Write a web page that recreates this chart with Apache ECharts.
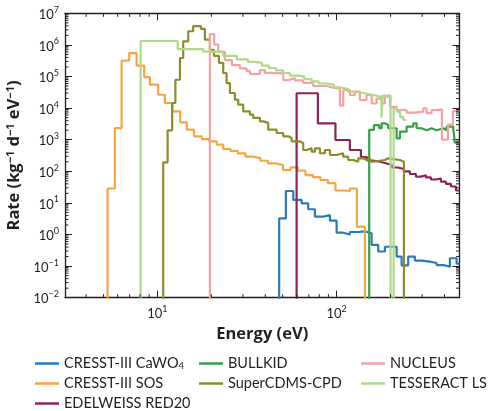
<!DOCTYPE html>
<html><head><meta charset="utf-8">
<script src="https://cdn.jsdelivr.net/npm/echarts@6/dist/echarts.min.js"></script>
<style>html,body{margin:0;padding:0;background:#fff}#c{width:490px;height:411px}</style>
</head><body><div id="c"></div>
<script>
// ---- data (energy bin edges in eV, rates in kg^-1 d^-1 eV^-1) ----
const cawo4Edges = [47.8, 52.1, 57.3, 63.8, 69.4, 75.7, 84.2, 91.8, 100, 108.8, 118.6, 132.0, 143.9, 156.8, 170.7, 186.0, 202.7, 216.3, 230.5, 250.9, 273.5, 298.2, 331.6, 361.4, 393.5, 428.8, 467.3, 484.4];
const cawo4Rates = [3.26, 23.8, 12.4, 9.7, 6.3, 3.66, 4.1, 2.74, 1.14, 1.0, 1.2, 1.25, 1.1, 0.47, 0.29, 0.41, 0.41, 0.2, 0.105, 0.2, 0.15, 0.138, 0.125, 0.108, 0.096, 0.177, 0.12];

const sosEdges = [5.27, 5.79, 6.31, 6.96, 7.65, 8.44, 9.08, 10.1, 11.0, 12.1, 13.4, 14.6, 16.0, 17.7, 19.4, 21.4, 23.3, 25.6, 28.1, 31.0, 34.1, 37.6, 41.4, 45.5, 50.2, 55.2, 60.8, 67.0, 73.7, 81.2, 89.4, 98.5, 108.4, 118.7, 129.8, 143.9];
const sosRates = [28.6, 2340, 3.2e5, 5.5e5, 2.2e5, 9.6e4, 5.5e4, 2.65e4, 1.45e4, 7.9e3, 3.55e3, 2.07e3, 1.28e3, 1.05e3, 890, 695, 508, 439, 371, 290, 258, 216, 179, 158, 110, 134, 105, 76, 65, 53, 42, 24.7, 23.8, 28.6, 1.77];

const edelEdges = [59.8, 78.6, 98.5, 118.6, 136.6, 147.6, 159.4, 174.4, 188.4, 203.5, 219.8, 237.5, 256.5, 277.0, 295.5, 315.0, 335.9, 358.2, 382.0, 407.3, 434.4, 463.2, 484.4];
const edelRates = [2.95e4, 3.3e3, 980, 472, 284, 220, 201, 179, 158, 132, 118, 99, 82, 68, 75, 64, 55, 59, 47, 40, 33, 24.7];

const bullkidEdges = [152.0, 161.5, 172.9, 178.3, 186.0, 194.1, 216.3, 225.6, 245.8, 267.6, 279.5, 298.2, 317.9, 338.9, 361.4, 393.5, 411.1, 447.4, 457.2, 484.4];
const bullkidRates = [2.05e3, 2.9e3, 2.3e3, 3.3e3, 2.9e3, 2.3e3, 1.1e3, 1.8e3, 2.6e3, 3.3e3, 2.3e3, 2.0e3, 2.3e3, 2.0e3, 2.3e3, 2.0e3, 2.6e3, 2.2e3, 800];

const cdmsEdges = [10.77, 11.40, 12.09, 12.60, 13.36, 13.93, 14.86, 15.84, 17.49, 18.41, 19.63, 20.67, 22.04, 23.29, 24.33, 25.39, 27.07, 28.24, 30.12, 32.83, 34.24, 37.33, 38.95, 41.53, 46.27, 50.35, 53.70, 56.10, 62.41, 65.10, 68.01, 72.53, 75.68, 80.70, 86.06, 91.77, 99.98, 108.8, 116.1, 123.8, 132.0, 140.7, 147.0, 153.4, 160.0, 186.0, 194.1, 225.6, 237.5];
const cdmsRates = [193, 1.98e3, 1.45e4, 7.9e4, 3.85e5, 1.3e6, 2.7e6, 3.9e6, 3.2e6, 1.46e6, 7.0e5, 4.5e5, 2.7e5, 1.29e5, 6.2e4, 3.0e4, 1.85e4, 1.28e4, 7.9e3, 6.2e3, 4.9e3, 3.8e3, 3.4e3, 2.07e3, 1.63e3, 1.28e3, 1.13e3, 890, 770, 472, 534, 417, 534, 372, 472, 328, 372, 290, 228, 201, 258, 228, 258, 201, 228, 258, 228, 201];

const nucleusEdges = [19.63, 20.75, 21.84, 23.81, 26.05, 28.87, 31.46, 32.83, 37.33, 39.81, 42.45, 50.4, 53.7, 58.53, 65.1, 74.0, 87.9, 95.7, 104.3, 108.9, 118.6, 126.5, 134.9, 147.0, 156.8, 167.2, 178.3, 186.0, 198.4, 216.3, 245.8, 273.5, 304.3, 317.9, 338.9, 361.4, 386.9, 417.9, 445.7, 484.4];
const nucleusRates = [2.2e6, 1.03e6, 6.0e5, 3.3e5, 2.3e5, 1.8e5, 1.5e5, 1.2e5, 1.6e5, 1.3e5, 1.26e5, 7.7e4, 8.9e4, 7.5e4, 6.3e4, 5.0e4, 4.4e4, 4.2e4, 1.2e4, 3.7e4, 2.6e4, 3.3e4, 1.8e4, 2.6e4, 1.4e4, 2.0e4, 1.4e4, 2.3e4, 1.1e4, 8.7e3, 7.2e3, 7.7e3, 9.8e3, 6.9e3, 8.7e3, 9.0e3, 1.0e3, 3.0e3, 8.0e3];

const tessEdges = [8.06, 12.96, 18.0, 23.3, 27.7, 32.0, 35.0, 38.3, 41.9, 45.8, 50.2, 54.9, 60.0, 66.0, 72.5, 79.5, 87.5, 96.5, 106, 116, 128, 141, 155, 171, 178, 181, 200, 208, 217, 226, 236, 245];
const tessRates = [1.33e6, 7.4e5, 6.1e5, 4.5e5, 3.5e5, 2.9e5, 2.7e5, 2.2e5, 1.86e5, 1.57e5, 1.29e5, 1.06e5, 1.01e5, 8.3e4, 7.0e4, 6.0e4, 5.5e4, 4.5e4, 4.0e4, 3.3e4, 3.0e4, 2.7e4, 2.4e4, 2.3e4, 5.0e3, 2.5e4, 1e-4, 9.9e3, 7.7e3, 5.3e3, 4.2e3];

const xMinorTickValues = [4, 5, 6, 7, 8, 9, 20, 30, 40, 50, 60, 70, 80, 90, 200, 300, 400];
const yMinorTickValues = [];
for (let e = -2; e < 7; e++) for (let m = 2; m < 10; m++) yMinorTickValues.push(m * Math.pow(10, e));

const seriesNames = ['CRESST-III CaWO4', 'CRESST-III SOS', 'EDELWEISS RED20', 'BULLKID', 'SuperCDMS-CPD', 'NUCLEUS', 'TESSERACT LS'];
const seriesColors = ['#2b7bba', '#f7a541', '#8b2458', '#34a048', '#8c8c2c', '#f5a3a3', '#b1d98c'];

// ---- build ----
const FLOOR = 1e-4;
function steps(edges, rates, rise, drop) {
  const pts = [];
  if (rise) pts.push([edges[0], FLOOR]);
  for (let i = 0; i < rates.length; i++) pts.push([edges[i], rates[i]]);
  pts.push([edges[edges.length - 1], rates[rates.length - 1]]);
  if (drop) pts.push([edges[edges.length - 1], FLOOR]);
  return pts;
}
const seriesData = [
  steps(cawo4Edges, cawo4Rates, true, false),
  steps(sosEdges, sosRates, true, true),
  steps(edelEdges, edelRates, true, false),
  steps(bullkidEdges, bullkidRates, true, false),
  steps(cdmsEdges, cdmsRates, true, true),
  steps(nucleusEdges, nucleusRates, true, false),
  steps(tessEdges, tessRates, true, false)
];

const FONT = 'Lato, "Liberation Sans", sans-serif';
const TFONT = '"Open Sans", Lato, sans-serif';
const INK = '#231f20';
function pow10(v) {
  const e = Math.round(Math.log10(v));
  return '{b|10}{s|' + (e < 0 ? '\u2212' + (-e) : e) + '}';
}
const labelRich = {
  b: { fontSize: 13, lineHeight: 16, color: INK, fontFamily: FONT, verticalAlign: 'bottom' },
  s: { fontSize: 9, lineHeight: 10, color: INK, fontFamily: FONT, verticalAlign: 'top' }
};
const tickStyle = { color: INK, width: 1 };
const lineStyleAxis = { color: INK, width: 1.3 };

const chart = echarts.init(document.getElementById('c'), null, { renderer: 'canvas' });
const legendCommon = {
  orient: 'vertical', icon: 'rect', itemWidth: 24, itemHeight: 2.5, itemGap: 5, padding: 0,
  selectedMode: false,
  textStyle: { fontSize: 14.5, lineHeight: 15, color: INK, fontFamily: FONT,
    rich: { n: { fontSize: 14.5, color: INK, fontFamily: FONT }, sub: { fontSize: 9.5, color: INK, fontFamily: FONT, verticalAlign: 'bottom', padding: [4, 0, 0, 0] } } },
  formatter: function (name) { return name === 'CRESST-III CaWO4' ? '{n|CRESST-III CaWO}{sub|4}' : name; }
};
const option = {
  animation: false,
  backgroundColor: '#ffffff',
  grid: { left: 65, right: 30.5, top: 13.3, bottom: 113.3, containLabel: false, outerBoundsMode: 'none' },
  legend: [
    Object.assign({}, legendCommon, { left: 35, top: 356, data: seriesNames.slice(0, 3) }),
    Object.assign({}, legendCommon, { left: 199, top: 356, data: seriesNames.slice(3, 5) }),
    Object.assign({}, legendCommon, { left: 361, top: 356, data: seriesNames.slice(5, 7) })
  ],
  xAxis: [
    { type: 'log', logBase: 10, min: 3.05, max: 485, position: 'bottom',
      axisLine: { onZero: false, lineStyle: lineStyleAxis },
      axisTick: { inside: true, length: 7, lineStyle: tickStyle },
      minorTick: { show: false }, splitLine: { show: false },
      axisLabel: { showMinLabel: false, showMaxLabel: false, margin: 7, formatter: pow10, rich: labelRich },
      name: 'Energy (eV)', nameLocation: 'middle', nameGap: 24,
      nameTextStyle: { fontWeight: 'bold', fontSize: 16.5, color: INK, fontFamily: TFONT } },
    { type: 'log', logBase: 10, min: 3.05, max: 485, position: 'top',
      axisLine: { onZero: false, lineStyle: lineStyleAxis },
      axisTick: { inside: true, length: 7, lineStyle: tickStyle },
      minorTick: { show: false }, splitLine: { show: false }, axisLabel: { show: false } }
  ],
  yAxis: [
    { type: 'log', logBase: 10, min: 0.01, max: 1e7, position: 'left',
      axisLine: { onZero: false, lineStyle: lineStyleAxis },
      axisTick: { inside: true, length: 7, lineStyle: tickStyle },
      minorTick: { show: false }, splitLine: { show: false },
      axisLabel: { margin: 6, formatter: pow10, rich: labelRich },
      name: 'Rate (kg{s|\u22121} d{s|\u22121} eV{s|\u22121})', nameLocation: 'middle', nameGap: 39,
      nameTextStyle: { fontWeight: 'bold', fontSize: 16.5, color: INK, fontFamily: TFONT,
        rich: { s: { fontWeight: 'bold', fontSize: 11, color: INK, fontFamily: TFONT, verticalAlign: 'top', lineHeight: 11 } } } },
    { type: 'log', logBase: 10, min: 0.01, max: 1e7, position: 'right',
      axisLine: { onZero: false, lineStyle: lineStyleAxis },
      axisTick: { inside: true, length: 7, lineStyle: tickStyle },
      minorTick: { show: false }, splitLine: { show: false }, axisLabel: { show: false } }
  ],
  series: seriesNames.map(function (n, i) {
    return { name: n, type: 'line', step: 'end', xAxisIndex: 0, yAxisIndex: 0,
      data: seriesData[i], showSymbol: false, symbol: 'none', clip: true,
      color: seriesColors[i], lineStyle: { width: 2.2, color: seriesColors[i] },
      itemStyle: { color: seriesColors[i] }, emphasis: { disabled: true } };
  }).concat([{
    type: 'custom', silent: true, xAxisIndex: 0, yAxisIndex: 0, clip: false, z: 5,
    data: xMinorTickValues.map(function (v) { return [v, 1, 0]; }).concat(yMinorTickValues.map(function (v) { return [10, v, 1]; })),
    renderItem: function (params, api) {
      const cs = params.coordSys;
      const p = api.coord([api.value(0), api.value(1)]);
      const L = 3.5;
      const st = { stroke: INK, lineWidth: 1 };
      if (api.value(2) === 0) {
        return { type: 'group', children: [
          { type: 'line', shape: { x1: p[0], y1: cs.y + cs.height, x2: p[0], y2: cs.y + cs.height - L }, style: st },
          { type: 'line', shape: { x1: p[0], y1: cs.y, x2: p[0], y2: cs.y + L }, style: st }
        ] };
      }
      return { type: 'group', children: [
        { type: 'line', shape: { x1: cs.x, y1: p[1], x2: cs.x + L, y2: p[1] }, style: st },
        { type: 'line', shape: { x1: cs.x + cs.width, y1: p[1], x2: cs.x + cs.width - L, y2: p[1] }, style: st }
      ] };
    }
  }])
};
chart.setOption(option);
</script></body></html>
